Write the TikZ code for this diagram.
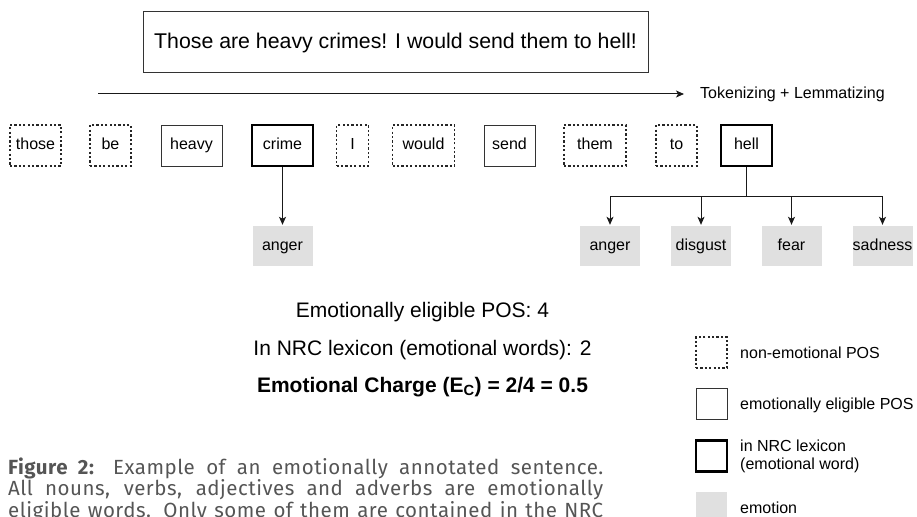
\documentclass[tikz,border=0pt]{standalone}
\usepackage{fontspec}
\setmainfont{Liberation Sans}
\newfontfamily\capfont[LetterSpace=2.5]{Fira Sans}
\usetikzlibrary{arrows.meta}
\definecolor{emo}{HTML}{E0E0E0}
\definecolor{capgray}{HTML}{555555}
\begin{document}
\begin{tikzpicture}[x=1pt,y=-1pt,
  tok/.style={font=\fontsize{16}{18}\selectfont, minimum height=41pt, inner sep=0pt, anchor=center,
              text height=11.5pt, text depth=3.5pt},
  nonemo/.style={tok, draw=black!85, line width=1.1pt, dash pattern=on 2.2pt off 2.2pt},
  elig/.style={tok, draw=black!80, line width=1pt},
  nrc/.style={tok, draw=black, line width=2.5pt},
  emotion/.style={tok, fill=emo, minimum width=60pt, minimum height=40pt},
  arr/.style={draw=black!90, line width=1pt, -{Stealth[length=8pt,width=7pt,inset=2pt]}, shorten >=1pt},
  plain/.style={draw=black!90, line width=1pt},
  midtext/.style={anchor=base, inner sep=0pt, font=\fontsize{21}{24}\selectfont},
  legtext/.style={anchor=west, inner sep=0pt, align=left, font=\fontsize{16}{18}\selectfont},
  legbox/.style={minimum width=31pt, minimum height=31pt, inner sep=0pt, anchor=center},
  capline/.style={anchor=base west, inner sep=0pt, text=capgray, font=\capfont\fontsize{20.5}{21.5}\selectfont}
]
\useasboundingbox (0,0) rectangle (917,516);
\clip (0,0) rectangle (917,516);

% sentence box
\node[draw=black!80, line width=1pt, minimum width=505pt, minimum height=61pt, inner sep=0pt,
      font=\fontsize{21.3}{24}\selectfont] (sent) at (395.5,42.5) {Those are heavy crimes! I would send them to hell!};

% tokenizing arrow
\coordinate (ts) at (98,94);
\node[anchor=west, inner sep=0pt, inner xsep=16pt, font=\fontsize{16}{18}\selectfont] (tok) at (684,94) {Tokenizing + Lemmatizing};
\draw[arr, shorten >=0pt] (ts) -- (tok.west);

% tokens
\node[nonemo, minimum width=51pt] (t1) at (35.5,145.5) {those};
\node[nonemo, minimum width=41pt] (t2) at (110.5,145.5) {be};
\node[elig,   minimum width=61pt] (t3) at (191.5,145.5) {heavy};
\node[nrc,    minimum width=61pt] (t4) at (282.5,145.5) {crime};
\node[nonemo, minimum width=32pt] (t5) at (352.5,145.5) {I};
\node[nonemo, minimum width=62pt] (t6) at (423.5,145.5) {would};
\node[elig,   minimum width=51pt] (t7) at (509.5,145.5) {send};
\node[nonemo, minimum width=62pt] (t8) at (595,145.5) {them};
\node[nonemo, minimum width=41pt] (t9) at (676.5,145.5) {to};
\node[nrc,    minimum width=51pt] (t10) at (746.5,145.5) {hell};

% emotions
\node[emotion] (e0) at (282.5,246) {anger};
\node[emotion] (e1) at (610,246) {anger};
\node[emotion] (e2) at (701,246) {disgust};
\node[emotion] (e3) at (791.5,246) {fear};
\node[emotion] (e4) at (882.5,246) {sadness};

\draw[arr] (t4.south) -- (e0.north);
\coordinate (hub) at (746.5,196);
\draw[plain] (t10.south) -- (hub);
\draw[arr] (hub) -| (e1.north);
\draw[arr] (hub) -| (e2.north);
\draw[arr] (hub) -| (e3.north);
\draw[arr] (hub) -| (e4.north);

% middle text
\node[midtext] (m1) at (422.5,317) {Emotionally eligible POS: 4};
\node[midtext] (m2) at (422.5,355) {In NRC lexicon (emotional words): 2};
\node[midtext, font=\fontsize{21}{24}\selectfont\bfseries] (m3) at (422.5,392) {Emotional Charge (E\textsubscript{C}) = 2/4 = 0.5};

% legend
\node[legbox, draw=black!85, line width=1.1pt, dash pattern=on 2.2pt off 2.2pt] (l1) at (711.5,352.5) {};
\node[legbox, draw=black!80, line width=1pt] (l2) at (711.5,404) {};
\node[legbox, draw=black, line width=2.5pt] (l3) at (711.5,456) {};
\node[legbox, fill=emo] (l4) at (711.5,507.5) {};
\node[legtext] (lt1) at (740,353) {non-emotional POS};
\node[legtext] (lt2) at (740,405) {emotionally eligible POS};
\node[legtext] (lt3) at (740,456) {in NRC lexicon\\(emotional word)};
\node[legtext] (lt4) at (740,508) {emotion};

% caption
\node[capline] (c1) at (8,474) {\makebox[595pt][s]{\textbf{Figure 2:} Example of an emotionally annotated sentence.}};
\node[capline] (c2) at (8,495.5) {\makebox[595pt][s]{All nouns, verbs, adjectives and adverbs are emotionally}};
\node[capline] (c3) at (8,517) {\makebox[595pt][s]{eligible words. Only some of them are contained in the NRC}};
\end{tikzpicture}
\end{document}
